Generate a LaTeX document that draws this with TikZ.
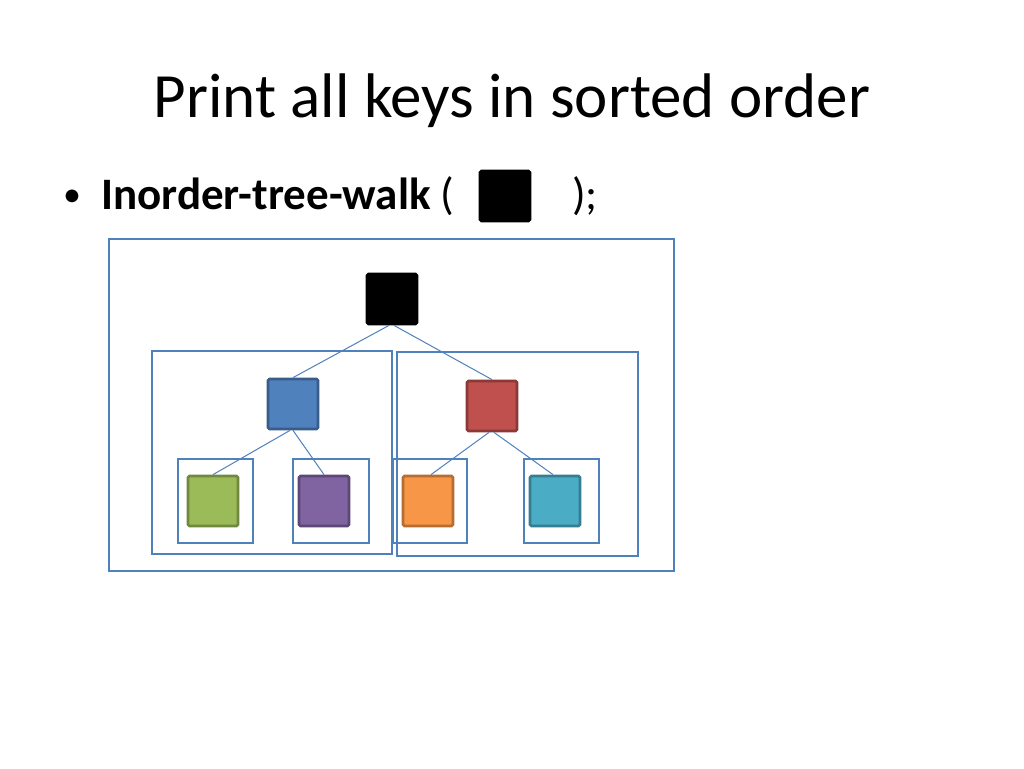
\documentclass[tikz,border=0pt]{standalone}
\usepackage{fontspec}
\setmainfont{Carlito}
\usepackage{tikz}
\usetikzlibrary{positioning, calc}

\definecolor{offblue}{HTML}{4F81BD}
\definecolor{offblueline}{HTML}{385D8A}
\definecolor{offred}{HTML}{C0504D}
\definecolor{offredline}{HTML}{8C3836}
\definecolor{offgreen}{HTML}{9BBB59}
\definecolor{offgreenline}{HTML}{71893F}
\definecolor{offpurple}{HTML}{8064A2}
\definecolor{offpurpleline}{HTML}{5C4776}
\definecolor{offorange}{HTML}{F79646}
\definecolor{offorangeline}{HTML}{B66D31}
\definecolor{offaqua}{HTML}{4BACC6}
\definecolor{offaqualine}{HTML}{357D91}

\tikzset{
  key/.style={draw=#1line, fill=#1, line width=2.8pt, rounded corners=1.5pt,
    minimum size=50pt, inner sep=0pt},
  rootkey/.style={draw=black, fill=black, line width=2.8pt, rounded corners=1.5pt,
    minimum size=50pt, inner sep=0pt},
  subtree/.style={draw=offblue, line width=2.9pt},
  edge/.style={draw=offblue, line width=1pt}
}

\begin{document}
\begin{tikzpicture}[x=1pt, y=-1pt]
  \useasboundingbox[fill=white] (0,0) rectangle (1024,768);
  % Title and bullet
  \node[anchor=base, inner sep=0pt, font=\fontsize{63}{75}\selectfont] (title) at (512,117) {Print all keys in sorted order};
  \node[anchor=base west, inner sep=0pt, font=\fontsize{36}{44}\selectfont] (bullet) at (63,206) {•};
  \node[anchor=base west, inner sep=0pt, font=\fontsize{45}{54}\selectfont] (call) at (101,209) {\textbf{Inorder-tree-walk} (};
  \node[rootkey, minimum size=50pt] (arg) at (505,196) {};
  \node[anchor=base west, inner sep=0pt, font=\fontsize{45}{54}\selectfont] (close) at (572,209) {);};
  % Subtree boxes
  \draw[subtree] (109,239) rectangle (674,571);
  \draw[subtree] (152,351) rectangle (392,554);
  \draw[subtree] (397,352) rectangle (638,556);
  \draw[subtree] (178,459) rectangle (253,543);
  \draw[subtree] (293,459) rectangle (369,543);
  \draw[subtree] (393,459) rectangle (467,543);
  \draw[subtree] (524,459) rectangle (599,543);
  % Keys
  \node[rootkey] (root) at (392,299) {};
  \node[key=offblue] (left) at (293,404) {};
  \node[key=offred] (right) at (492,406) {};
  \node[key=offgreen] (ll) at (213,501) {};
  \node[key=offpurple] (lr) at (324,501) {};
  \node[key=offorange] (rl) at (428,501) {};
  \node[key=offaqua] (rr) at (555,501) {};
  % Edges
  \draw[edge] ([xshift=-3pt]root.south) -- (left.north);
  \draw[edge] ([xshift=2pt]root.south) -- (right.north);
  \draw[edge] ([xshift=-3pt]left.south) -- (ll.north);
  \draw[edge] (left.south) -- (lr.north);
  \draw[edge] ([xshift=-3pt]right.south) -- ([xshift=3pt]rl.north);
  \draw[edge] ([xshift=2pt]right.south) -- ([xshift=-2pt]rr.north);
\end{tikzpicture}
\end{document}
